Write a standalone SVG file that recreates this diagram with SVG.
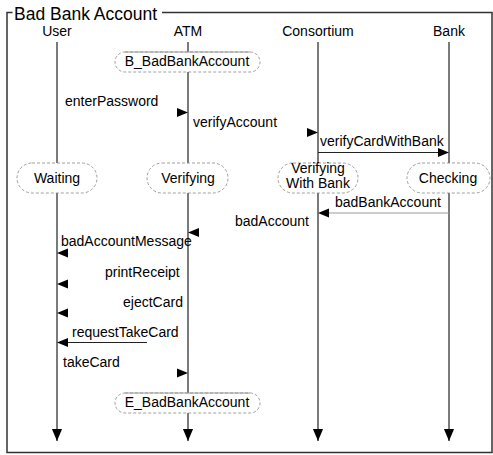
<svg xmlns="http://www.w3.org/2000/svg" width="493" height="455" viewBox="0 0 493 455">
<defs>
<style>
text{font-family:"Liberation Sans",Arial,sans-serif;font-size:14px;fill:#000}
.title{font-size:17.5px}
.mid{text-anchor:middle}
.frame{fill:none;stroke:#333;stroke-width:1.5}
.life{stroke:#222;stroke-width:1.2;fill:none}
.msg{stroke:#222;stroke-width:1;fill:none}
.msgg{stroke:#999;stroke-width:1.2;fill:none}
.head{fill:#000}
.state{fill:#fff;stroke:#888;stroke-width:0.8;stroke-dasharray:3 2}
.solid{stroke:#999;stroke-width:1}
</style>
<marker id="lifeEnd" markerWidth="12" markerHeight="14" refX="13" refY="5.5" orient="auto" markerUnits="userSpaceOnUse" viewBox="0 0 13 11">
<path d="M0,0 L13,5.5 L0,11 Z" fill="#000"/>
</marker>
</defs>
<path class="frame" d="M12.5,12.5 H7 V452.5 H492 V12.5 H162"/>
<text class="title" x="14" y="19.5">Bad Bank Account</text>
<g id="connectors">
<line class="life" x1="57" y1="42" x2="57" y2="441" marker-end="url(#lifeEnd)"/>
<line class="life" x1="188" y1="42" x2="188" y2="441" marker-end="url(#lifeEnd)"/>
<line class="life" x1="318" y1="42" x2="318" y2="441" marker-end="url(#lifeEnd)"/>
<line class="life" x1="449" y1="42" x2="449" y2="441" marker-end="url(#lifeEnd)"/>
<g id="m1"><text x="65" y="106">enterPassword</text><polygon class="head" points="188,112.5 177,108 177,117"/></g>
<g id="m2"><text x="193" y="127">verifyAccount</text><polygon class="head" points="318,132.5 307,128 307,137"/></g>
<g id="m3"><text x="320" y="146">verifyCardWithBank</text><line class="msg" x1="318" y1="152.5" x2="440" y2="152.5"/><polygon class="head" points="449,152.5 438,148 438,157"/></g>
<g id="m4"><text x="335" y="207">badBankAccount</text><line class="msgg" x1="449" y1="213" x2="326" y2="213"/><polygon class="head" points="318,213 329,208.5 329,217.5"/></g>
<g id="m5"><text x="235" y="226">badAccount</text><polygon class="head" points="188,232.5 199,228 199,237"/></g>
<g id="m6"><text x="61" y="246">badAccountMessage</text><polygon class="head" points="57,253 68,248.5 68,257.5"/></g>
<g id="m7"><text x="105" y="277">printReceipt</text><polygon class="head" points="57,284 68,279.5 68,288.5"/></g>
<g id="m8"><text x="123" y="307">ejectCard</text><polygon class="head" points="57,313 68,308.5 68,317.5"/></g>
<g id="m9"><text x="72" y="337">requestTakeCard</text><line class="msg" x1="147" y1="342.5" x2="65" y2="342.5"/><polygon class="head" points="57,342.5 68,338 68,347"/></g>
<g id="m10"><text x="63" y="367">takeCard</text><polygon class="head" points="188,373 177,368.5 177,377.5"/></g>
</g>
<g id="user"><text class="mid" x="57" y="36">User</text></g>
<g id="atm"><text class="mid" x="188" y="36">ATM</text></g>
<g id="consortium"><text class="mid" x="318" y="36">Consortium</text></g>
<g id="bank"><text class="mid" x="449" y="36">Bank</text></g>
<g id="B_BadBankAccount">
<rect class="state" x="115" y="52" width="145" height="20" rx="10" ry="10"/>
<line class="solid" x1="125" y1="52" x2="250" y2="52"/>
<text class="mid" x="187" y="66">B_BadBankAccount</text>
</g>
<g id="Waiting">
<rect class="state" x="17" y="163" width="80" height="30" rx="15" ry="15"/>
<text class="mid" x="57" y="183">Waiting</text>
</g>
<g id="Verifying">
<rect class="state" x="147" y="163" width="81" height="30" rx="15" ry="15"/>
<text class="mid" x="188" y="183">Verifying</text>
</g>
<g id="VerifyingWithBank">
<rect class="state" x="278" y="163" width="80" height="30" rx="15" ry="15"/>
<text class="mid" x="318" y="173">Verifying</text>
<text class="mid" x="318" y="188">With Bank</text>
</g>
<g id="Checking">
<rect class="state" x="407" y="163" width="83" height="30" rx="15" ry="15"/>
<text class="mid" x="448" y="183">Checking</text>
</g>
<g id="E_BadBankAccount">
<rect class="state" x="115" y="393" width="145" height="20" rx="10" ry="10"/>
<line class="solid" x1="125" y1="393" x2="250" y2="393"/>
<text class="mid" x="187" y="407">E_BadBankAccount</text>
</g>
</svg>
